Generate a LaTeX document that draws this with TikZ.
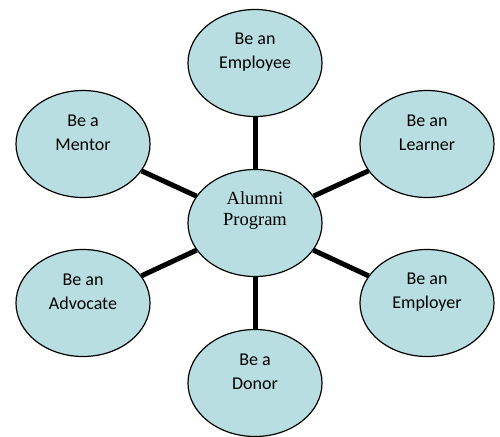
\documentclass[tikz,border=0pt]{standalone}
\usepackage{fontspec}
\usepackage{tikz}
\usetikzlibrary{shapes.geometric}
\newfontfamily\bubblefont{Carlito}
\newfontfamily\hubfont{Liberation Serif}
\definecolor{bubblefill}{RGB}{184,222,225}

\begin{document}
\begin{tikzpicture}[x=1pt,y=-1pt]
\tikzstyle{bubble}=[ellipse, draw, line width=1.2pt, fill=bubblefill, minimum width=134pt, minimum height=107pt, inner sep=0pt]
\tikzstyle{bubbletext}=[align=center, font=\bubblefont\fontsize{18}{24}\selectfont]
\tikzstyle{spoke}=[line width=5pt]
\useasboundingbox (0,0) rectangle (500,436);
\node [bubble, label={[bubbletext, yshift=11pt]center:Be an\\Employee}] (employee) at (255,63) {};
\node [bubble, label={[bubbletext, yshift=11pt]center:Be a\\Mentor}] (mentor) at (83,144) {};
\node [bubble, label={[bubbletext, yshift=11pt]center:Be an\\Learner}] (learner) at (427,144) {};
\node [bubble, label={[align=center, font=\hubfont\fontsize{18.5}{21}\selectfont, yshift=12pt]center:Alumni\\Program}] (alumni) at (255,223) {};
\node [bubble, label={[bubbletext, yshift=11pt]center:Be an\\Advocate}] (advocate) at (83,303) {};
\node [bubble, label={[bubbletext, yshift=11pt]center:Be an\\Employer}] (employer) at (427,303) {};
\node [bubble, label={[bubbletext, yshift=11pt]center:Be a\\Donor}] (donor) at (255,383) {};
\draw [spoke] (alumni) -- (employee);
\draw [spoke] (alumni) -- (mentor);
\draw [spoke] (alumni) -- (learner);
\draw [spoke] (alumni) -- (advocate);
\draw [spoke] (alumni) -- (employer);
\draw [spoke] (alumni) -- (donor);
\end{tikzpicture}
\end{document}
